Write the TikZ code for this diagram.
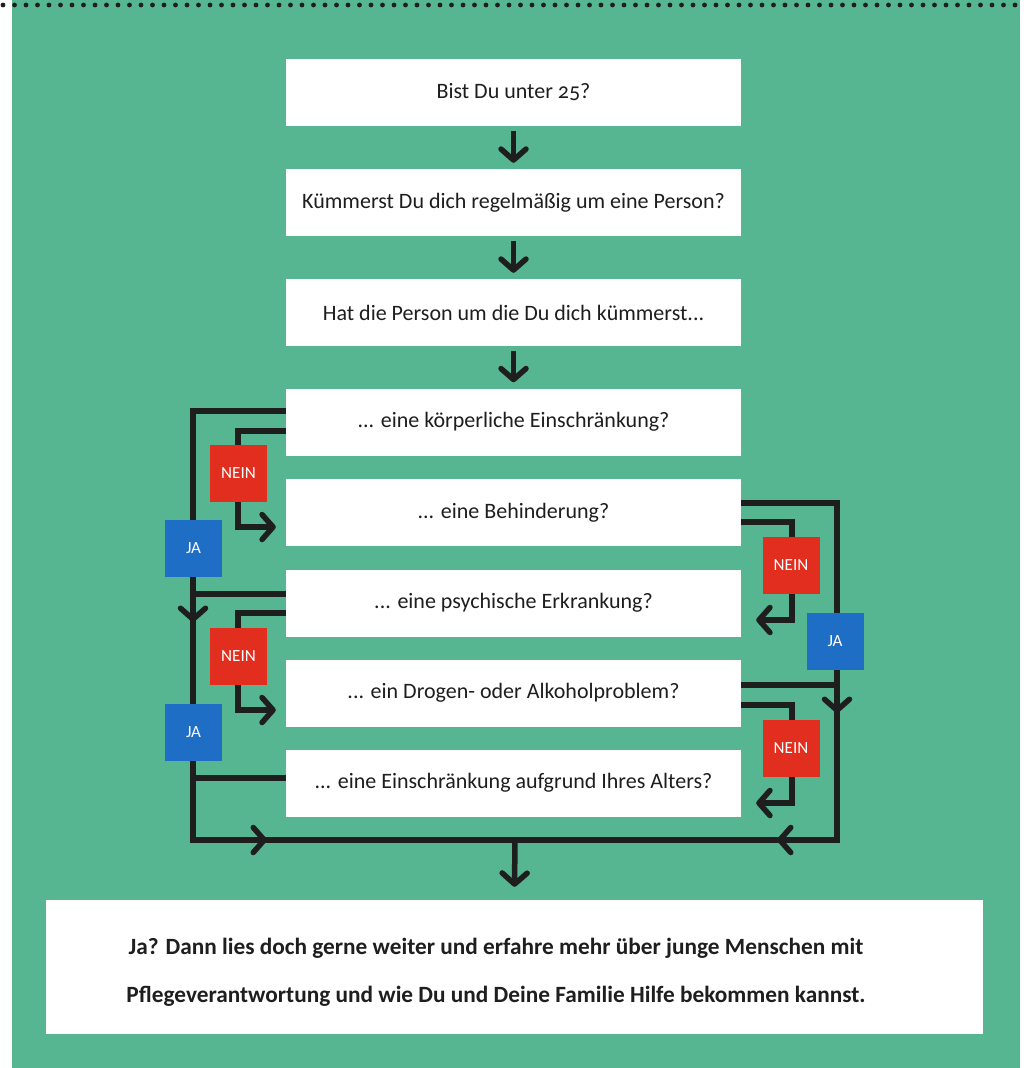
\documentclass[tikz,border=0pt]{standalone}
\usepackage{fontspec}
\setmainfont{Carlito}[Numbers=OldStyle]
\usetikzlibrary{arrows.meta}
\definecolor{bg}{RGB}{85,182,145}
\definecolor{neinred}{RGB}{226,46,30}
\definecolor{jablue}{RGB}{30,110,198}
\definecolor{ink}{RGB}{30,30,30}
\begin{document}
\begin{tikzpicture}[x=1pt,y=-1pt,
  line/.style={line width=5.5pt, draw=ink},
  arr/.style={line width=5.5pt, draw=ink, -{Straight Barb[length=11pt,width=25pt,round]}},
  qbox/.style={fill=white, minimum width=455pt, minimum height=67pt, inner sep=0pt, text=ink, font=\fontsize{22}{26}\selectfont},
  tag/.style={minimum size=57pt, inner sep=0pt, text=white, font=\fontsize{17}{20}\selectfont},
  nein/.style={tag, fill=neinred},
  ja/.style={tag, fill=jablue}]
\useasboundingbox (0,0) rectangle (1023,1068);
\fill[white] (0,0) rectangle (1023,1068);
\fill[bg] (12,0) rectangle (1020,1068);
\foreach \i in {0,...,88} \fill[ink] (3+\i*11.5,5) circle (2.4);

\node[qbox] (b1) at (513.5,92.5) {Bist Du unter 25?};
\node[qbox] (b2) at (513.5,202.5) {Kümmerst Du dich regelmäßig um eine Person?};
\node[qbox] (b3) at (513.5,312.5) {Hat die Person um die Du dich kümmerst...};
\node[qbox] (b4) at (513.5,422) {... eine körperliche Einschränkung?};
\node[qbox] (b5) at (513.5,512.5) {... eine Behinderung?};
\node[qbox] (b6) at (513.5,603) {... eine psychische Erkrankung?};
\node[qbox] (b7) at (513.5,693) {... ein Drogen- oder Alkoholproblem?};
\node[qbox] (b8) at (513.5,783) {... eine Einschränkung aufgrund Ihres Alters?};
\node[fill=white, minimum width=937pt, minimum height=134pt, inner sep=0pt] (fin) at (514.5,967) {};
\node[align=center, text=ink, inner sep=0pt, font=\bfseries\fontsize{23.3}{48}\selectfont] (fintext) at (496,972)
  {Ja? Dann lies doch gerne weiter und erfahre mehr über junge Menschen mit\\Pflegeverantwortung und wie Du und Deine Familie Hilfe bekommen kannst.};

\draw[arr] ([yshift=-5pt]b1.south) -- ([yshift=6pt]b2.north);
\draw[arr] ([yshift=-5pt]b2.south) -- ([yshift=6pt]b3.north);
\draw[arr] ([yshift=-5pt]b3.south) -- ([yshift=6pt]b4.north);

\coordinate (mj) at (515,840);
\coordinate (lc) at (193,840);
\coordinate (rc) at (837,840);
% JA collectors
\draw[line] ([yshift=11pt]b4.west) -| (lc) -- (mj);
\draw[line] ([yshift=9.5pt]b5.east) -| (rc) -- (mj);
\draw[line] ([yshift=9pt]b6.west) -- (193,594);
\draw[line] ([yshift=5pt]b8.west) -- (193,778);
\draw[line] ([yshift=8pt]b7.east) -- (837,685);
% NEIN paths
\draw[arr] ([yshift=-9pt]b4.west) -| (238,527) -- ([xshift=-10pt,yshift=-14.5pt]b5.west);
\draw[arr] ([yshift=-10pt]b6.west) -| (238,710) -- ([xshift=-10pt,yshift=-17pt]b7.west);
\draw[arr] ([yshift=-9.5pt]b5.east) -| (792,620) -- ([xshift=15pt,yshift=-17pt]b6.east);
\draw[arr] ([yshift=-12pt]b7.east) -| (792,803) -- ([xshift=15pt,yshift=-20pt]b8.east);
% arrow tips on the collectors
\draw[arr] (193,600) -- (193,622);
\draw[arr] (837,690) -- (837,713);
\draw[arr] (250,840) -- (267,840);
\draw[arr] (795,840) -- (777,840);
\draw[arr] (mj) -- ([yshift=13pt]fin.north);

\node[nein] (n1) at (238.5,473.5) {NEIN};
\node[nein] (n2) at (238.5,656) {NEIN};
\node[nein] (n3) at (791,565.5) {NEIN};
\node[nein] (n4) at (791,748.5) {NEIN};
\node[ja] (j1) at (193.5,548.5) {JA};
\node[ja] (j2) at (193.5,732) {JA};
\node[ja] (j3) at (835,641) {JA};
\end{tikzpicture}
\end{document}
